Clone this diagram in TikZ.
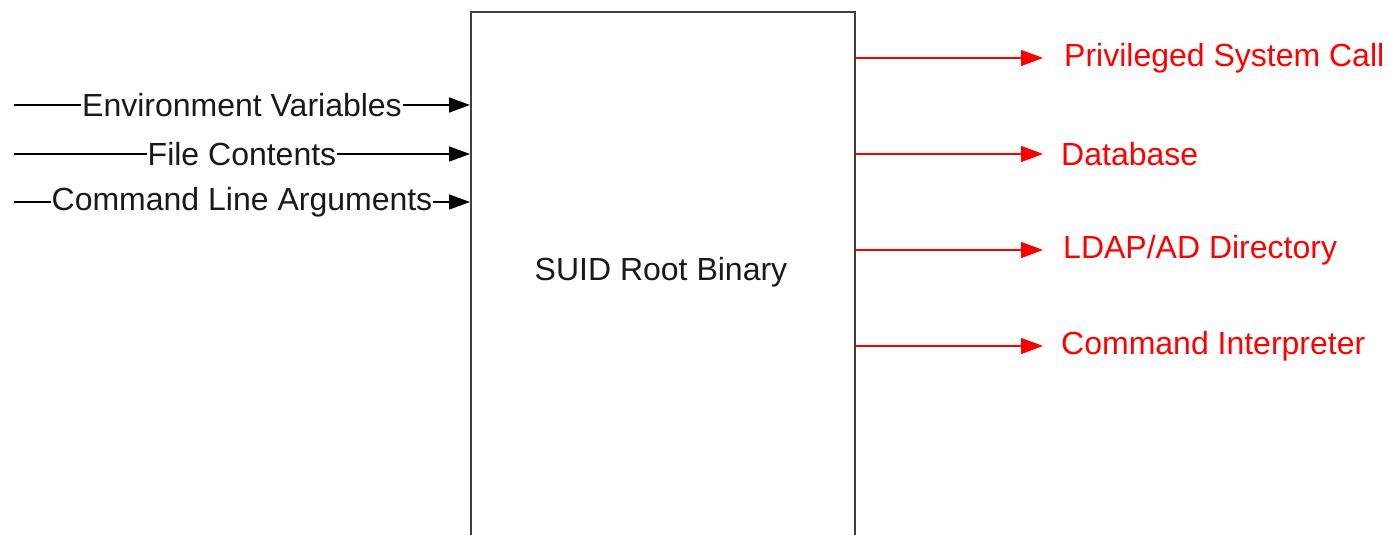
\documentclass[tikz,border=0pt]{standalone}
\usepackage{fontspec}
\setmainfont{Liberation Sans}
\usetikzlibrary{arrows.meta}
\definecolor{boxgray}{HTML}{404040}
\definecolor{outred}{HTML}{FF0000}
\tikzset{
  inarrow/.style={draw=black, line width=1.6pt, -{Triangle[length=21pt,width=15pt]}},
  outarrow/.style={draw=outred, line width=1.5pt, -{Triangle[length=22pt,width=16pt]}},
  inlabel/.style={fill=white, inner sep=1pt, text=black!90, font=\fontsize{32}{38}\selectfont},
  outlabel/.style={anchor=west, inner sep=0pt, text=outred, font=\fontsize{32}{38}\selectfont},
  bigbox/.style={draw=boxgray, line width=2pt, rectangle, anchor=north west, inner sep=0pt, minimum width=384pt, minimum height=560pt},
  boxtext/.style={text=black!90, font=\fontsize{32}{38}\selectfont}
}
\begin{document}
\begin{tikzpicture}[x=1pt,y=-1pt]
\useasboundingbox (0,0) rectangle (1391,535);
\clip (0,0) rectangle (1391,535);
\node[bigbox] (box) at (470,11) {};
\node[boxtext] (boxlbl) at (661,272) {SUID Root Binary};
% inputs
\coordinate (envs) at (14,105);
\coordinate (files) at (14,154);
\coordinate (cmds) at (14,202);
\draw[inarrow] (envs) -- node[inlabel] (envlbl) {Environment Variables} (box.west |- envs);
\draw[inarrow] (files) -- node[inlabel] (filelbl) {File Contents} (box.west |- files);
\draw[inarrow] (cmds) -- node[inlabel] (cmdlbl) {Command Line Arguments} (box.west |- cmds);
% outputs
\node[outlabel] (priv) at (1064,58) {Privileged System Call};
\node[outlabel] (db) at (1061,154) {Database};
\node[outlabel] (ldap) at (1063,250) {LDAP/AD Directory};
\node[outlabel] (cint) at (1061,346) {Command Interpreter};
\coordinate (privtip) at (1043,58);
\coordinate (dbtip) at (1043,154);
\coordinate (ldaptip) at (1043,250);
\coordinate (cinttip) at (1043,346);
\draw[outarrow] (box.east |- priv) -- (privtip);
\draw[outarrow] (box.east |- db) -- (dbtip);
\draw[outarrow] (box.east |- ldap) -- (ldaptip);
\draw[outarrow] (box.east |- cint) -- (cinttip);
\end{tikzpicture}
\end{document}
